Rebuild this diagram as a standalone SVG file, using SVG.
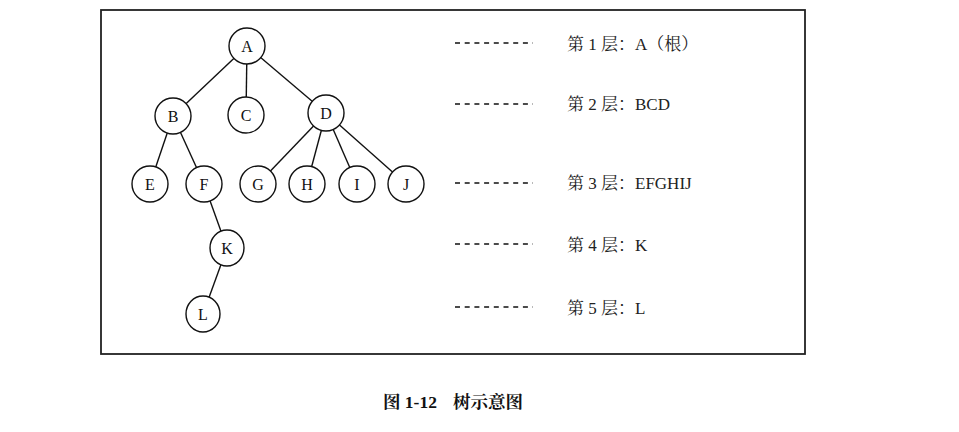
<svg xmlns="http://www.w3.org/2000/svg" width="959" height="432" viewBox="0 0 959 432">
<style>
.frame{fill:none;stroke:#222;stroke-width:1.8}
.edge{stroke:#111;stroke-width:1.4;fill:none}
.node{fill:#fff;stroke:#111;stroke-width:1.4}
.lbl{font-family:"Liberation Serif","Noto Serif CJK SC","Noto Sans CJK SC",serif;font-size:16px;fill:#111;text-anchor:middle}
.dash{stroke:#111;stroke-width:1.4;stroke-dasharray:5,4.7}
.txt{font-family:"Liberation Serif","Noto Serif CJK SC","Noto Sans CJK SC",serif;font-size:17px;fill:#222}
.cap{font-family:"Liberation Serif","Noto Serif CJK SC","Noto Sans CJK SC",serif;font-size:17.5px;font-weight:bold;fill:#111}
</style>
<rect class="frame" x="101" y="10" width="704" height="344"/>
<g id="connectors">
<line class="edge" x1="247" y1="46" x2="173" y2="116"/>
<line class="edge" x1="247" y1="46" x2="246" y2="115"/>
<line class="edge" x1="247" y1="46" x2="326" y2="113"/>
<line class="edge" x1="173" y1="116" x2="150" y2="184"/>
<line class="edge" x1="173" y1="116" x2="204" y2="184"/>
<line class="edge" x1="326" y1="113" x2="258" y2="184"/>
<line class="edge" x1="326" y1="113" x2="307" y2="184"/>
<line class="edge" x1="326" y1="113" x2="357" y2="184"/>
<line class="edge" x1="326" y1="113" x2="406" y2="184"/>
<line class="edge" x1="204" y1="184" x2="227" y2="248"/>
<line class="edge" x1="227" y1="248" x2="203" y2="314"/>
</g>
<g id="nA"><circle class="node" cx="247" cy="46" r="18"/><text class="lbl" x="247" y="52">A</text></g>
<g id="nB"><circle class="node" cx="173" cy="116" r="18"/><text class="lbl" x="173" y="122">B</text></g>
<g id="nC"><circle class="node" cx="246" cy="115" r="18"/><text class="lbl" x="246" y="121">C</text></g>
<g id="nD"><circle class="node" cx="326" cy="113" r="18"/><text class="lbl" x="326" y="119">D</text></g>
<g id="nE"><circle class="node" cx="150" cy="184" r="18"/><text class="lbl" x="150" y="190">E</text></g>
<g id="nF"><circle class="node" cx="204" cy="184" r="18"/><text class="lbl" x="204" y="190">F</text></g>
<g id="nG"><circle class="node" cx="258" cy="184" r="18"/><text class="lbl" x="258" y="190">G</text></g>
<g id="nH"><circle class="node" cx="307" cy="184" r="18"/><text class="lbl" x="307" y="190">H</text></g>
<g id="nI"><circle class="node" cx="357" cy="184" r="18"/><text class="lbl" x="357" y="190">I</text></g>
<g id="nJ"><circle class="node" cx="406" cy="184" r="18"/><text class="lbl" x="406" y="190">J</text></g>
<g id="nK"><ellipse class="node" cx="227" cy="248" rx="17" ry="18"/><text class="lbl" x="227" y="254">K</text></g>
<g id="nL"><ellipse class="node" cx="203" cy="314" rx="17" ry="18"/><text class="lbl" x="203" y="320">L</text></g>
<g id="levels">
<line class="dash" x1="455" y1="43" x2="533" y2="43"/>
<line class="dash" x1="455" y1="104" x2="533" y2="104"/>
<line class="dash" x1="455" y1="183" x2="533" y2="183"/>
<line class="dash" x1="455" y1="244" x2="533" y2="244"/>
<line class="dash" x1="455" y1="307" x2="533" y2="307"/>
<text class="txt" x="567" y="50">第 1 层：A（根）</text>
<text class="txt" x="567" y="110">第 2 层：BCD</text>
<text class="txt" x="567" y="189">第 3 层：EFGHIJ</text>
<text class="txt" x="567" y="251">第 4 层：K</text>
<text class="txt" x="567" y="314">第 5 层：L</text>
</g>
<text class="cap" x="383" y="408">图 1-12<tspan x="453">树示意图</tspan></text>
</svg>
